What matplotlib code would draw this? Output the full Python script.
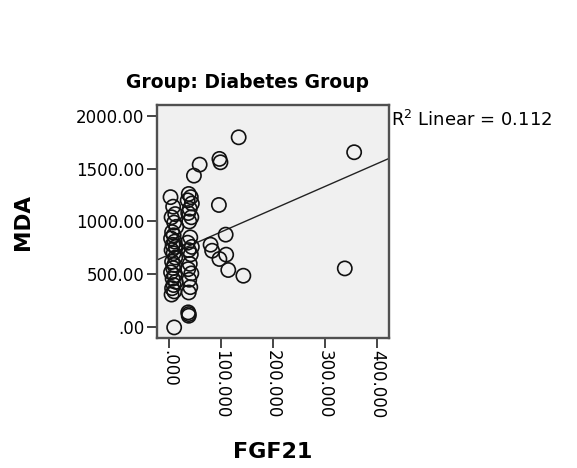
import numpy as np
import matplotlib
matplotlib.use("Agg")
import matplotlib.pyplot as plt
from matplotlib.ticker import FuncFormatter

plt.rcParams['font.family'] = ['DejaVu Sans']

# FGF21 / MDA values (Diabetes group)
fgf21_left = [3, 8, 12, 5, 10, 14, 6, 9, 4, 11, 7, 13, 5, 9, 12, 6, 10, 8, 4, 11, 7, 13, 9, 6, 10, 5]
mda_left = [1230, 1140, 1070, 1040, 990, 950, 900, 870, 840, 810, 780, 760, 730, 700, 660, 620, 590, 560, 520, 490, 460, 430, 400, 370, 340, 310]
fgf21_right = [38, 42, 36, 44, 40, 37, 43, 39, 41, 36, 44, 38, 42, 40, 37, 43, 39, 41, 38]
mda_right = [1260, 1230, 1200, 1170, 1120, 1080, 1040, 1000, 850, 800, 760, 730, 690, 600, 550, 510, 450, 380, 330]
fgf21_other = [134, 356, 97, 99, 59, 48, 96, 109, 80, 83, 110, 97, 114, 143, 338, 10, 37, 38, 38]
mda_other = [1795, 1654, 1591, 1559, 1537, 1433, 1156, 876, 781, 724, 687, 646, 542, 488, 557, 0, 142, 126, 110]

# linear fit line as drawn in the picture (R^2 = 0.112)
fit_intercept = 686
fit_slope = 2.15
r2_text = 'R$^2$ Linear = 0.112'

x = np.array(fgf21_left + fgf21_right + fgf21_other, dtype=float)
y = np.array(mda_left + mda_right + mda_other, dtype=float)

fig = plt.figure(figsize=(5.77, 4.68), dpi=100)
ax = fig.add_axes([157/577, 1-338/468, 232/577, 233/468])
ax.set_facecolor('#f0f0f0')

ax.scatter(x, y, s=105, facecolors='none', edgecolors='#111111', linewidths=1.2, zorder=3)

xlim = (-23, 423)
xl = np.array(xlim)
ax.plot(xl, fit_intercept + fit_slope * xl, color='#222222', lw=1.0, zorder=2)

ax.set_xlim(*xlim)
ax.set_ylim(-100, 2100)
ax.set_xticks([0, 100, 200, 300, 400])
ax.set_yticks([0, 500, 1000, 1500, 2000])
ax.xaxis.set_major_formatter(FuncFormatter(lambda v, p: '.000' if v == 0 else f'{v:.3f}'))
ax.yaxis.set_major_formatter(FuncFormatter(lambda v, p: '.00' if v == 0 else f'{v:.2f}'))
for lab in ax.get_xticklabels():
    lab.set_rotation(-90)
ax.tick_params(axis='both', labelsize=12, length=7, width=1.4, color='#444444', direction='out', pad=2)
for s in ax.spines.values():
    s.set_color('#505050')
    s.set_linewidth(1.7)

ax.text(0.392, 1.0 + 17/233, 'Group: Diabetes Group', transform=ax.transAxes,
        fontsize=13.5, fontweight='bold', ha='center', va='baseline')
ax.set_ylabel('MDA', fontsize=15.5, fontweight='bold')
ax.yaxis.set_label_coords(-0.534, 0.5)
ax.set_xlabel('FGF21', fontsize=16, fontweight='bold')
ax.xaxis.set_label_coords(0.5, -0.446)
ax.text(1.009, 0.936, r2_text, transform=ax.transAxes, fontsize=13,
        ha='left', va='center')

fig.savefig('out.png', dpi=100)
